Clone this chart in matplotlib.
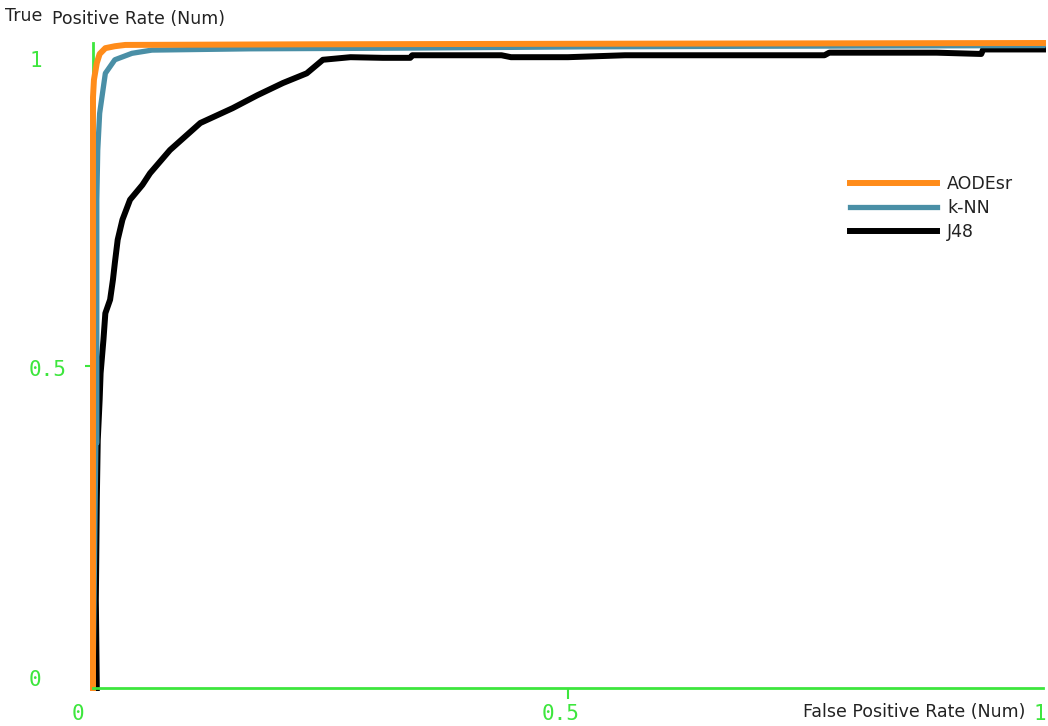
import matplotlib
matplotlib.use("Agg")
import matplotlib.pyplot as plt
from matplotlib.transforms import blended_transform_factory, offset_copy

# ---- data ----
series_names = ["AODEsr", "k-NN", "J48"]

aode_fpr = [0.000, 0.000, 0.000, 0.001, 0.004, 0.007, 0.013, 0.023, 0.034, 0.230, 0.586, 1.000]
aode_tpr = [0.000, 0.447, 0.916, 0.943, 0.969, 0.983, 0.992, 0.995, 0.997, 0.998, 0.999, 1.000]

knn_fpr = [0.000, 0.003, 0.004, 0.004, 0.005, 0.007, 0.013, 0.023, 0.041, 0.062, 0.165, 0.323, 0.513, 0.702, 1.000]
knn_tpr = [0.000, 0.380, 0.380, 0.757, 0.834, 0.891, 0.953, 0.974, 0.984, 0.989, 0.991, 0.992, 0.994, 0.995, 0.996]

j48_fpr = [0.004, 0.003, 0.004, 0.005, 0.007, 0.008, 0.011, 0.013, 0.018, 0.021, 0.023, 0.026,
           0.031, 0.039, 0.052, 0.060, 0.081, 0.113, 0.147, 0.173, 0.200, 0.225, 0.242, 0.271,
           0.305, 0.334, 0.336, 0.430, 0.440, 0.500, 0.560, 0.770, 0.775, 0.888, 0.935, 0.937, 1.000]
j48_tpr = [0.000, 0.136, 0.291, 0.384, 0.447, 0.488, 0.540, 0.581, 0.602, 0.633, 0.659, 0.695,
           0.726, 0.757, 0.780, 0.798, 0.834, 0.876, 0.899, 0.919, 0.938, 0.953, 0.974, 0.978,
           0.977, 0.977, 0.981, 0.981, 0.978, 0.978, 0.981, 0.981, 0.985, 0.985, 0.983, 0.990, 0.990]

x_ticks = [0, 0.5, 1]
x_tick_labels = ["0", "0.5", "1"]
y_ticks = [0, 0.5, 1]
y_tick_labels = ["0", "0.5", "1"]

# ---- style ----
W, H = 1048, 726
GREEN = "#3de63d"
ORANGE = "#ff8c1a"
TEAL = "#4a8fa6"
TEXT = "#222222"

fig = plt.figure(figsize=(W / 100, H / 100), dpi=100)
ax = fig.add_axes([93 / W, (H - 688) / H, (1043 - 93) / W, (688 - 43) / H])
ax.set_xlim(0, 1)
ax.set_ylim(0, 1)

lw = 4.3
ax.plot(j48_fpr, j48_tpr, color="black", lw=lw, clip_on=False, label=series_names[2], zorder=3)
ax.plot(knn_fpr, knn_tpr, color=TEAL, lw=3.8, clip_on=False, label=series_names[1], zorder=4)
ax.plot(aode_fpr, aode_tpr, color=ORANGE, lw=lw, clip_on=False, label=series_names[0], zorder=5)

for s in ["top", "right"]:
    ax.spines[s].set_visible(False)
for s in ["left", "bottom"]:
    ax.spines[s].set_color(GREEN)
    ax.spines[s].set_linewidth(2)
ax.spines["bottom"].set_zorder(6)

# only the middle tick marks are visible in the reference
ax.set_xticks([x_ticks[1]])
ax.set_xticklabels([])
ax.set_yticks([y_ticks[1]])
ax.set_yticklabels([])
ax.tick_params(axis="y", length=6, width=1.5, color=GREEN, direction="out")
ax.tick_params(axis="x", length=8, width=1.5, color=GREEN, direction="out")

mono = dict(family="DejaVu Sans Mono", fontsize=15, color=GREEN)
ytr = blended_transform_factory(fig.transFigure, ax.transData)
y_offsets = {0: 8, 0.5: -4, 1: -18}
for v, lab in zip(y_ticks, y_tick_labels):
    tr = offset_copy(ytr, fig=fig, x=0, y=y_offsets[v], units="dots")
    ax.text(29 / W, v, lab, transform=tr, ha="left", va="center", **mono)

xtr = blended_transform_factory(ax.transData, fig.transFigure)
x_offsets = {0: -15, 0.5: -7, 1: -3}
for v, lab in zip(x_ticks, x_tick_labels):
    tr = offset_copy(xtr, fig=fig, x=x_offsets[v], y=0, units="dots")
    ax.text(v, 1 - 714 / H, lab, transform=tr, ha="center", va="center", clip_on=False, **mono)

lab_font = dict(family="DejaVu Sans", fontsize=12.5, color=TEXT)
fig.text(5 / W, 1 - 16 / H, "True", ha="left", va="center", **lab_font)
fig.text(52 / W, 1 - 19 / H, "Positive Rate (Num)", ha="left", va="center", **lab_font)
fig.text(1025 / W, 1 - 712 / H, "False Positive Rate (Num)", ha="right", va="center", **lab_font)

handles, labels = ax.get_legend_handles_labels()
order = [labels.index(n) for n in series_names]
leg = ax.legend([handles[i] for i in order], [labels[i] for i in order],
                loc="upper left", bbox_to_anchor=(850 / W, 1 - 175 / H),
                bbox_transform=fig.transFigure, frameon=False,
                prop={"family": "DejaVu Sans", "size": 12.5},
                handlelength=5.0, handletextpad=0.6, labelspacing=0.35,
                borderpad=0, borderaxespad=0)
for t in leg.get_texts():
    t.set_color(TEXT)

fig.savefig("out.png", dpi=100)
